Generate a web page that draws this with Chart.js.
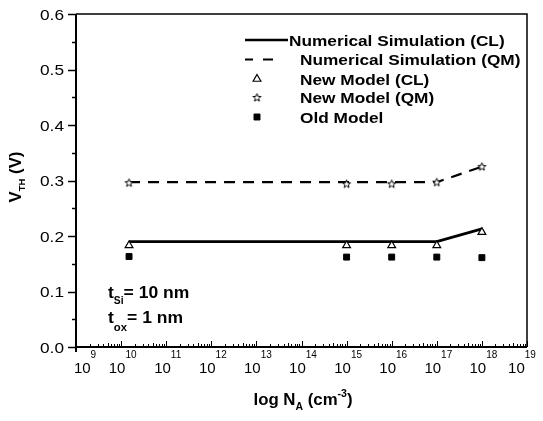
<!DOCTYPE html>
<html>
<head>
<meta charset="utf-8">
<script src="https://cdn.jsdelivr.net/npm/chart.js"></script>
<style>
  html, body { margin: 0; padding: 0; background: #fff; }
  canvas { display: block; }
</style>
</head>
<body>
<canvas id="vthChart" width="543" height="421"></canvas>
<script>
// doping levels (cm^-3) where the models were evaluated
const nA = [1.5e10, 1e15, 1e16, 1e17, 1e18];
const newModelCL = [0.183, 0.183, 0.183, 0.183, 0.207];
const newModelQM = [0.296, 0.294, 0.294, 0.297, 0.325];
const oldModel = [0.163, 0.162, 0.162, 0.162, 0.161];

// numerical simulation curves
const simX = [1.5e10, 1e17, 1e18];
const simCL = [0.190, 0.190, 0.213];
const simQM = [0.297, 0.297, 0.325];

const yTicks = [0, 0.1, 0.2, 0.3, 0.4, 0.5, 0.6];
const yTickLabels = ["0.0", "0.1", "0.2", "0.3", "0.4", "0.5", "0.6"];
const xDecades = [9, 10, 11, 12, 13, 14, 15, 16, 17, 18, 19];

const FONT = "'Liberation Sans', Arial, sans-serif";

function pts(xs, ys) {
  return xs.map((x, i) => ({ x: x, y: ys[i] }));
}

function makeStar() {
  const c = document.createElement("canvas");
  c.width = 11;
  c.height = 11;
  const g = c.getContext("2d");
  g.beginPath();
  for (let i = 0; i < 10; i++) {
    const r = i % 2 === 0 ? 4.2 : 1.8;
    const a = -Math.PI / 2 + (i * Math.PI) / 5;
    const px = 5.5 + r * Math.cos(a);
    const py = 5.8 + r * Math.sin(a);
    if (i === 0) g.moveTo(px, py);
    else g.lineTo(px, py);
  }
  g.closePath();
  g.fillStyle = "#fff";
  g.fill();
  g.strokeStyle = "#000";
  g.lineWidth = 1;
  g.stroke();
  return c;
}
const starImg = makeStar();

// draws text made of parts [{t, size, dy}] starting at x (or centred)
function rich(ctx, parts, x, y, opts) {
  const sx = opts.sx || 1;
  const weight = opts.bold ? "bold " : "";
  let w = 0;
  parts.forEach((p) => {
    ctx.font = weight + p.size + "px " + FONT;
    p.w = ctx.measureText(p.t).width * sx;
    w += p.w;
  });
  let cx = opts.align === "center" ? x - w / 2 : opts.align === "right" ? x - w : x;
  ctx.fillStyle = "#000";
  ctx.textBaseline = "alphabetic";
  ctx.textAlign = "left";
  parts.forEach((p) => {
    ctx.save();
    ctx.translate(cx, y + (p.dy || 0));
    ctx.scale(sx, 1);
    ctx.font = weight + p.size + "px " + FONT;
    ctx.fillText(p.t, 0, 0);
    ctx.restore();
    cx += p.w;
  });
}

const framePlugin = {
  id: "frame",
  beforeDraw(chart) {
    const ctx = chart.ctx;
    ctx.save();
    ctx.fillStyle = "#fff";
    ctx.fillRect(0, 0, chart.width, chart.height);
    ctx.restore();
  },
  afterDraw(chart) {
    const ctx = chart.ctx;
    const a = chart.chartArea;
    const xs = chart.scales.x;
    const ys = chart.scales.y;
    ctx.save();
    ctx.strokeStyle = "#000";
    ctx.lineJoin = "miter";

    // box
    ctx.lineWidth = 1.5;
    ctx.beginPath();
    ctx.moveTo(a.left, a.top);
    ctx.lineTo(a.right, a.top);
    ctx.lineTo(a.right, a.bottom);
    ctx.stroke();
    ctx.lineWidth = 2;
    ctx.beginPath();
    ctx.moveTo(a.left, a.top);
    ctx.lineTo(a.left, a.bottom + 5);
    ctx.moveTo(a.left, a.bottom);
    ctx.lineTo(a.right, a.bottom);
    ctx.stroke();

    // y ticks (outward), minor at 0.05
    ctx.lineWidth = 1.5;
    for (let v = 0; v <= 0.6001; v += 0.05) {
      const y = Math.round(ys.getPixelForValue(v)) + 0.5;
      const major = Math.abs(v * 10 - Math.round(v * 10)) < 1e-6;
      ctx.beginPath();
      ctx.moveTo(a.left - (major ? 8 : 4), y);
      ctx.lineTo(a.left, y);
      ctx.stroke();
    }
    yTicks.forEach((v, i) => {
      rich(ctx, [{ t: yTickLabels[i], size: 15 }], a.left - 12, ys.getPixelForValue(v) + 5.5, { align: "right", sx: 1.15 });
    });

    // x ticks (inward), log minor
    ctx.lineWidth = 1;
    xDecades.forEach((e) => {
      for (let m = 1; m <= 9; m++) {
        if (e === 19 && m > 1) break;
        const x = Math.round(xs.getPixelForValue(m * Math.pow(10, e))) + 0.5;
        const len = m === 1 ? 6 : m === 5 ? 4 : 3;
        ctx.beginPath();
        ctx.moveTo(x, a.bottom);
        ctx.lineTo(x, a.bottom - len);
        ctx.stroke();
      }
    });
    // end labels are pushed inward so they stay inside the figure
    xDecades.forEach((e) => {
      const shift = e === 9 ? 9 : e === 19 ? -5 : 1.5;
      const x = xs.getPixelForValue(Math.pow(10, e)) + shift;
      rich(ctx, [{ t: "10", size: 15 }, { t: String(e), size: 10, dy: -15 }], x, a.bottom + 26, { align: "center" });
    });

    // axis titles
    rich(ctx, [
      { t: "log N", size: 16 },
      { t: "A", size: 10, dy: 5 },
      { t: " (cm", size: 16 },
      { t: "-3", size: 10, dy: -8 },
      { t: ")", size: 16 }
    ], 303, 405, { align: "center", bold: true, sx: 1.05 });

    ctx.save();
    ctx.translate(21, 177);
    ctx.rotate(-Math.PI / 2);
    rich(ctx, [
      { t: "V", size: 16 },
      { t: "TH", size: 9, dy: 4 },
      { t: " (V)", size: 16 }
    ], 0, 0, { align: "center", bold: true, sx: 1.05 });
    ctx.restore();

    // annotation
    rich(ctx, [{ t: "t", size: 17 }, { t: "Si", size: 10, dy: 6 }, { t: "= 10 nm", size: 17 }], 108, 298, { bold: true, sx: 1.03 });
    rich(ctx, [{ t: "t", size: 17 }, { t: "ox", size: 11, dy: 8 }, { t: "= 1 nm", size: 17 }], 108, 323, { bold: true, sx: 1.03 });

    // legend
    const rows = [40, 59.5, 79, 97.5, 117];
    const ds = chart.data.datasets;
    ctx.strokeStyle = "#000";
    ctx.lineWidth = 2.5;
    ctx.beginPath();
    ctx.moveTo(245, rows[0]);
    ctx.lineTo(288, rows[0]);
    ctx.stroke();
    ctx.lineWidth = 2;
    ctx.beginPath();
    ctx.moveTo(245, rows[1]);
    ctx.lineTo(253, rows[1]);
    ctx.moveTo(263, rows[1]);
    ctx.lineTo(273, rows[1]);
    ctx.stroke();
    for (let i = 2; i < 5; i++) {
      const d = ds[i];
      ctx.fillStyle = d.backgroundColor;
      ctx.strokeStyle = d.borderColor;
      ctx.lineWidth = d.borderWidth;
      ctx.lineJoin = "miter";
      Chart.helpers.drawPoint(ctx, {
        pointStyle: d.pointStyle,
        radius: d.pointRadius,
        rotation: 0,
        borderWidth: d.borderWidth
      }, 257, rows[i]);
    }
    ds.forEach((d, i) => {
      rich(ctx, [{ t: d.label, size: 15 }], i === 0 ? 289 : 300, rows[i] + 5.5, { bold: true, sx: 1.15 });
    });

    ctx.restore();
  }
};

new Chart(document.getElementById("vthChart"), {
  type: "line",
  data: {
    datasets: [
      {
        label: "Numerical Simulation (CL)",
        data: pts(simX, simCL),
        borderColor: "#000",
        borderWidth: 2.8,
        pointRadius: 0,
        fill: false,
        order: 5
      },
      {
        label: "Numerical Simulation (QM)",
        data: pts(simX, simQM),
        borderColor: "#000",
        borderWidth: 2.2,
        borderDash: [11, 8],
        pointRadius: 0,
        fill: false,
        order: 4
      },
      {
        label: "New Model (CL)",
        data: pts(nA, newModelCL),
        showLine: false,
        pointStyle: "triangle",
        pointRadius: 4.5,
        borderColor: "#000",
        backgroundColor: "#fff",
        borderWidth: 1.2,
        order: 2
      },
      {
        label: "New Model (QM)",
        data: pts(nA, newModelQM),
        showLine: false,
        pointStyle: starImg,
        pointRadius: 4,
        borderColor: "#000",
        backgroundColor: "#fff",
        borderWidth: 1,
        order: 1
      },
      {
        label: "Old Model",
        data: pts(nA, oldModel),
        showLine: false,
        pointStyle: "rect",
        pointRadius: 4.2,
        borderColor: "#000",
        backgroundColor: "#000",
        borderWidth: 1,
        order: 3
      }
    ]
  },
  options: {
    responsive: false,
    devicePixelRatio: 1,
    animation: false,
    layout: { padding: { left: 76, right: 16, top: 14, bottom: 74 } },
    scales: {
      x: { type: "logarithmic", min: 1e9, max: 1e19, display: false },
      y: { type: "linear", min: 0, max: 0.6, display: false }
    },
    plugins: {
      legend: { display: false },
      tooltip: { enabled: false }
    }
  },
  plugins: [framePlugin]
});
</script>
</body>
</html>
